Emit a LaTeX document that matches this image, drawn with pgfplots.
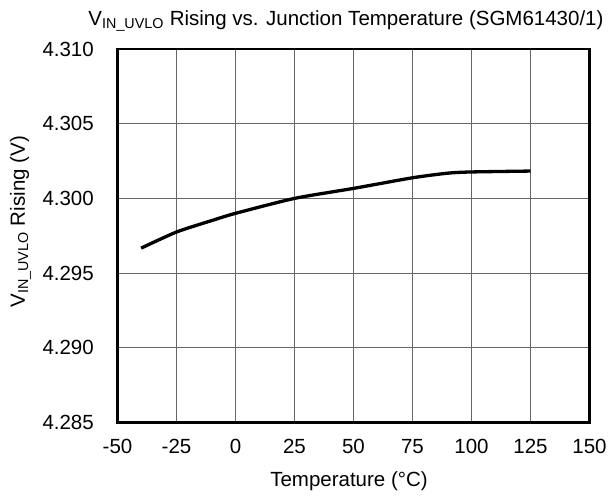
\documentclass[border=0pt]{standalone}
\usepackage{fontspec}
\setmainfont{Liberation Sans}
\usepackage{pgfplots}
\pgfplotsset{compat=1.18}

\pgfplotstableread{
T     V
-40   4.29667
-25   4.29775
-10   4.29852
0     4.29900
25    4.30000
50    4.30067
75    4.30138
90    4.30169
100   4.30177
125   4.30183
}\uvlo

\begin{document}
\begin{tikzpicture}
\useasboundingbox (0,0) rectangle (614bp,504bp);
\begin{axis}[
    at={(117.5bp,81.5bp)}, anchor=south west,
    scale only axis,
    width=472bp, height=373.5bp,
    xmin=-50, xmax=150,
    ymin=4.285, ymax=4.310,
    xtick={-50,-25,...,150},
    ytick={4.285,4.290,...,4.3101},
    grid=major,
    major grid style={draw=black!60, line width=0.8bp},
    axis line style={line width=2.2bp},
    major tick length=0pt,
    /pgf/number format/assume math mode=true,
    font=\fontsize{20.5bp}{24bp}\selectfont,
    tick label style={font=\fontsize{20.5bp}{24bp}\selectfont, inner sep=0pt},
    yticklabel style={anchor=east, xshift=-23.5bp,
        /pgf/number format/.cd, fixed, fixed zerofill, precision=3},
    xticklabel style={anchor=north, yshift=-16.5bp},
    title={V\textsubscript{IN\_UVLO} Rising vs. Junction Temperature (SGM61430/1)},
    title style={at={([xshift=-7.5bp,yshift=18bp]rel axis cs:0.5,1)}, anchor=base, inner sep=0pt},
    xlabel={Temperature (°C)},
    xlabel style={at={([xshift=-4.5bp,yshift=-63.5bp]rel axis cs:0.5,0)}, anchor=base, inner sep=0pt},
    ylabel={V\textsubscript{IN\_UVLO} Rising (V)},
    ylabel style={at={([xshift=-92.5bp,yshift=14bp]rel axis cs:0,0.5)}, anchor=base, inner sep=0pt},
]
\addplot[black, line width=3.3bp, smooth, tension=0.4] table[x=T, y=V] {\uvlo};
\end{axis}
\end{tikzpicture}
\end{document}
